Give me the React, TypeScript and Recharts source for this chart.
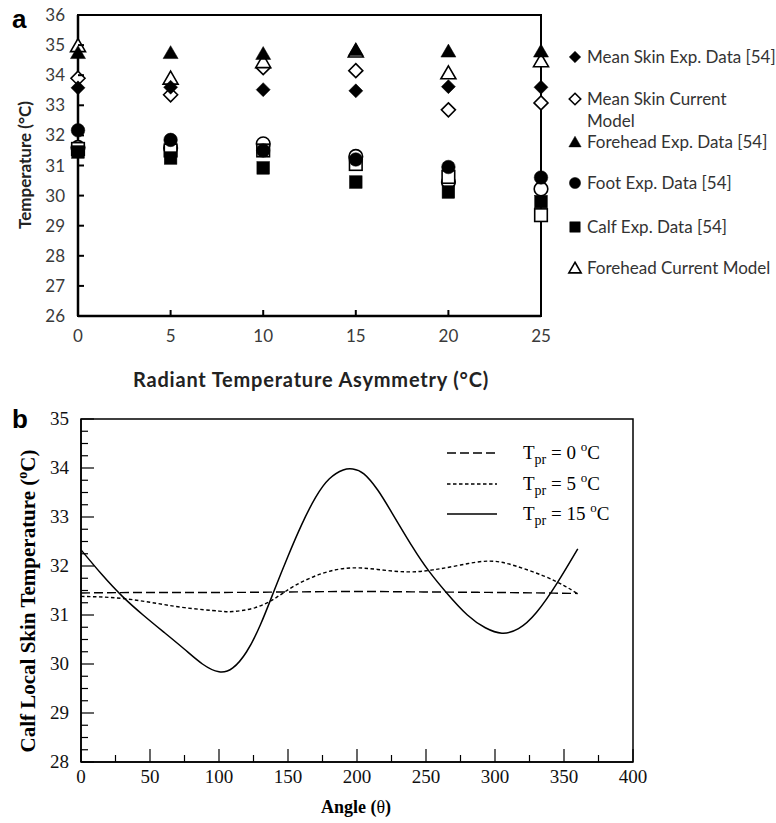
import React from 'react';
import { ScatterChart, Scatter, XAxis, YAxis, ReferenceArea, LineChart, Line } from 'recharts';

// ---------- Panel a data ----------
const rtaValues = [0, 5, 10, 15, 20, 25];
const meanSkinExp = [33.58, 33.6, 33.52, 33.48, 33.62, 33.6];
const meanSkinModel = [33.9, 33.35, 34.25, 34.15, 32.85, 33.08];
const foreheadExp = [34.75, 34.75, 34.72, 34.85, 34.8, 34.8];
const foreheadModel = [34.98, 33.9, 34.45, 34.8, 34.08, 34.48];
const footExp = [32.17, 31.85, 31.5, 31.2, 30.95, 30.6];
const footModel = [31.6, 31.58, 31.72, 31.3, 30.45, 30.22];
const calfExp = [31.45, 31.25, 30.92, 30.45, 30.12, 29.8];
const calfModel = [31.55, 31.5, 31.5, 31.05, 30.62, 29.35];
const aXTicks = [0, 5, 10, 15, 20, 25];
const aYTicks = [26, 27, 28, 29, 30, 31, 32, 33, 34, 35, 36];

// ---------- Panel b data ----------
const angle0 = [0, 50, 100, 150, 200, 250, 300, 360];
const tpr0 = [31.45, 31.46, 31.46, 31.47, 31.48, 31.47, 31.46, 31.44];
const angle5 = [0, 25, 50, 75, 100, 110, 125, 140, 155, 175, 195, 215, 236, 255, 275, 296, 315, 335, 350, 360];
const tpr5 = [31.38, 31.35, 31.26, 31.15, 31.08, 31.07, 31.14, 31.33, 31.6, 31.85, 31.96, 31.93, 31.88, 31.92, 32.02, 32.1, 32.0, 31.8, 31.6, 31.43];
const angle15 = [0, 15, 30, 45, 60, 75, 88, 100, 110, 120, 130, 140, 150, 160, 170, 180, 190, 197, 205, 215, 225, 240, 252, 265, 280, 293, 305, 317, 330, 345, 360];
const tpr15 = [32.33, 31.83, 31.38, 31.0, 30.65, 30.3, 30.0, 29.84, 29.92, 30.25, 30.8, 31.5, 32.2, 32.85, 33.4, 33.78, 33.96, 33.98, 33.88, 33.55, 33.1, 32.4, 31.9, 31.45, 31.0, 30.74, 30.63, 30.72, 31.05, 31.65, 32.35];
const bXMajor = [0, 50, 100, 150, 200, 250, 300, 350, 400];
const bYMajor = [28, 29, 30, 31, 32, 33, 34, 35];

const withMinor = (major: number[], parts: number) => {
  const out: number[] = [];
  for (let i = 0; i < major.length; i++) {
    out.push(major[i]);
    if (i < major.length - 1) {
      const step = (major[i + 1] - major[i]) / parts;
      for (let k = 1; k < parts; k++) out.push(major[i] + step * k);
    }
  }
  return out;
};
const bXTicks = withMinor(bXMajor, 2);
const bYTicks = withMinor(bYMajor, 4);

const toPts = (xs: number[], ys: number[]) => xs.map((x, i) => ({ x, y: ys[i] }));

// ---------- marker shapes ----------
type Kind = 'diamond' | 'triangle' | 'circle' | 'square';
const drawMarker = (kind: Kind, filled: boolean, cx: number, cy: number, s = 1) => {
  const fill = filled ? '#000' : '#fff';
  const stroke = '#000';
  const sw = filled ? 0.5 : 1.6;
  if (kind === 'diamond') {
    const w = 7 * s, h = 7 * s;
    return <polygon points={`${cx},${cy - h} ${cx + w},${cy} ${cx},${cy + h} ${cx - w},${cy}`} fill={fill} stroke={stroke} strokeWidth={sw} />;
  }
  if (kind === 'triangle') {
    const w = 7.5 * s, h = 7 * s;
    return <polygon points={`${cx},${cy - h} ${cx + w},${cy + h * 0.85} ${cx - w},${cy + h * 0.85}`} fill={fill} stroke={stroke} strokeWidth={sw} />;
  }
  if (kind === 'circle') {
    return <circle cx={cx} cy={cy} r={6.8 * s} fill={fill} stroke={stroke} strokeWidth={sw} />;
  }
  const h = 6.3 * s;
  return <rect x={cx - h} y={cy - h} width={2 * h} height={2 * h} fill={fill} stroke={stroke} strokeWidth={sw} />;
};
const shapeOf = (kind: Kind, filled: boolean) => (p: any) => <g>{drawMarker(kind, filled, p.cx, p.cy)}</g>;

// ---------- ticks ----------
const TickAX = (p: any) => {
  const { x, y, payload } = p;
  const v = payload.value;
  const edge = v === 0 || v === 25;
  return (
    <g>
      {!edge && <line x1={x} y1={y} x2={x} y2={y - 6} stroke="#000" strokeWidth={2} />}
      <text x={x} y={y + 26} textAnchor="middle" fontFamily="Lato" fontSize={17} fill="#3a3a3a">{v}</text>
    </g>
  );
};
const TickAY = (p: any) => {
  const { x, y, payload } = p;
  const v = payload.value;
  const edge = v === 26 || v === 36;
  return (
    <g>
      {!edge && <line x1={x} y1={y} x2={x + 6} y2={y} stroke="#000" strokeWidth={2} />}
      <text x={x - 13} y={y + 6} textAnchor="end" fontFamily="Lato" fontSize={17} fill="#3a3a3a">{v}</text>
    </g>
  );
};
const TickBX = (p: any) => {
  const { x, y, payload } = p;
  const v = Math.round(payload.value * 100) / 100;
  const major = bXMajor.includes(v);
  return (
    <g>
      <line x1={x} y1={y} x2={x} y2={y - (major ? 13 : 7)} stroke="#000" strokeWidth={1.2} />
      {major && <text x={x} y={y + 21} textAnchor="middle" fontFamily="Liberation Serif" fontSize={19} fill="#111">{v}</text>}
    </g>
  );
};
const TickBY = (p: any) => {
  const { x, y, payload } = p;
  const v = Math.round(payload.value * 100) / 100;
  const major = bYMajor.includes(v);
  return (
    <g>
      <line x1={x} y1={y} x2={x + (major ? 13 : 7)} y2={y} stroke="#000" strokeWidth={1.2} />
      {major && <text x={x - 12} y={y + 6} textAnchor="end" fontFamily="Liberation Serif" fontSize={19} fill="#111">{v}</text>}
    </g>
  );
};

const legendA: { label: string[]; kind: Kind; filled: boolean; y: number }[] = [
  { label: ['Mean Skin Exp. Data [54]'], kind: 'diamond', filled: true, y: 57 },
  { label: ['Mean Skin Current', 'Model'], kind: 'diamond', filled: false, y: 99 },
  { label: ['Forehead Exp. Data [54]'], kind: 'triangle', filled: true, y: 142 },
  { label: ['Foot Exp. Data [54]'], kind: 'circle', filled: true, y: 183 },
  { label: ['Calf Exp. Data [54]'], kind: 'square', filled: true, y: 227 },
  { label: ['Forehead Current Model'], kind: 'triangle', filled: false, y: 268 },
];

const legendB = [
  { value: '0', dash: '9 4', y: 453 },
  { value: '5', dash: '3.5 2.5', y: 484 },
  { value: '15', dash: undefined, y: 514 },
];

export default function App() {
  const aSeries = [
    { name: 'Mean Skin Current Model', ys: meanSkinModel, kind: 'diamond' as Kind, filled: false },
    { name: 'Forehead Current Model', ys: foreheadModel, kind: 'triangle' as Kind, filled: false },
    { name: 'Foot Current Model', ys: footModel, kind: 'circle' as Kind, filled: false },
    { name: 'Calf Current Model', ys: calfModel, kind: 'square' as Kind, filled: false },
    { name: 'Mean Skin Exp. Data [54]', ys: meanSkinExp, kind: 'diamond' as Kind, filled: true },
    { name: 'Forehead Exp. Data [54]', ys: foreheadExp, kind: 'triangle' as Kind, filled: true },
    { name: 'Foot Exp. Data [54]', ys: footExp, kind: 'circle' as Kind, filled: true },
    { name: 'Calf Exp. Data [54]', ys: calfExp, kind: 'square' as Kind, filled: true },
  ];
  return (
    <div style={{ position: 'absolute', left: 0, top: 0, width: 776, height: 823, background: '#fff', overflow: 'hidden' }}>
      <div style={{ position: 'absolute', left: 0, top: 0 }}>
        <ScatterChart width={776} height={400} margin={{ top: 15, right: 235, bottom: 54, left: 38 }}>
          <XAxis type="number" dataKey="x" domain={[0, 25]} ticks={aXTicks} interval={0} height={30}
            tickSize={0} tickMargin={0} tick={<TickAX />} axisLine={{ stroke: '#000', strokeWidth: 2.5 }} />
          <YAxis type="number" dataKey="y" domain={[26, 36]} ticks={aYTicks} interval={0} width={40}
            tickSize={0} tickMargin={0} tick={<TickAY />} axisLine={{ stroke: '#000', strokeWidth: 2.5 }} />
          <ReferenceArea x1={0} x2={25} y1={26} y2={36} fill="none" stroke="#000" strokeWidth={2} />
          {aSeries.map((s) => (
            <Scatter key={s.name} name={s.name} data={toPts(rtaValues, s.ys)} isAnimationActive={false}
              shape={shapeOf(s.kind, s.filled)} legendType="none" />
          ))}
        </ScatterChart>
      </div>
      <div style={{ position: 'absolute', left: 0, top: 400 }}>
        <LineChart width={776} height={423} margin={{ top: 19, right: 143, bottom: 31, left: 31 }}>
          <XAxis type="number" dataKey="x" domain={[0, 400]} ticks={bXTicks} interval={0} height={30}
            tickSize={0} tickMargin={0} tick={<TickBX />} axisLine={{ stroke: '#000', strokeWidth: 1.5 }} />
          <YAxis type="number" dataKey="y" domain={[28, 35]} ticks={bYTicks} interval={0} width={50}
            tickSize={0} tickMargin={0} tick={<TickBY />} axisLine={{ stroke: '#000', strokeWidth: 1.5 }} />
          <ReferenceArea x1={0} x2={400} y1={28} y2={35} fill="none" stroke="#000" strokeWidth={1.5} />
          <Line data={toPts(angle0, tpr0)} dataKey="y" type="monotone" stroke="#000" strokeWidth={1.4} strokeDasharray="9 4" dot={false} isAnimationActive={false} />
          <Line data={toPts(angle5, tpr5)} dataKey="y" type="natural" stroke="#000" strokeWidth={1.4} strokeDasharray="3.5 2.5" dot={false} isAnimationActive={false} />
          <Line data={toPts(angle15, tpr15)} dataKey="y" type="natural" stroke="#000" strokeWidth={1.5} dot={false} isAnimationActive={false} />
        </LineChart>
      </div>
      <svg width={776} height={823} style={{ position: 'absolute', left: 0, top: 0, pointerEvents: 'none' }}>
        {/* panel labels */}
        <text x={12} y={28} fontFamily="Liberation Sans" fontWeight="bold" fontSize={26} fill="#000">a</text>
        <text x={12} y={428} fontFamily="Liberation Sans" fontWeight="bold" fontSize={26} fill="#000">b</text>
        {/* panel a titles */}
        <text x={0} y={0} transform="translate(31,165) rotate(-90)" textAnchor="middle" fontFamily="Lato" fontWeight="bold" fontSize={17} fill="#222">Temperature (°C)</text>
        <text x={311} y={387} textAnchor="middle" fontFamily="Lato" fontWeight="bold" fontSize={20} letterSpacing={0.8} fill="#222">Radiant Temperature Asymmetry (°C)</text>
        {/* panel a legend */}
        {legendA.map((l, i) => (
          <g key={i}>
            <g>{drawMarker(l.kind, l.filled, 575, l.y, 0.82)}</g>
            {l.label.map((t, j) => (
              <text key={j} x={587} y={l.y + 6 + j * 22} fontFamily="Lato" fontSize={17} fill="#333">{t}</text>
            ))}
          </g>
        ))}
        {/* panel b titles */}
        <text x={0} y={0} transform="translate(35,601) rotate(-90)" textAnchor="middle" fontFamily="Liberation Serif" fontWeight="bold" fontSize={21} fill="#000">
          Calf Local Skin Temperature (<tspan dy={-8} fontSize={14}>o</tspan><tspan dy={8}>C)</tspan>
        </text>
        <text x={356} y={813} textAnchor="middle" fontFamily="Liberation Serif" fontWeight="bold" fontSize={18} fill="#000">
          Angle (<tspan fontWeight="normal">θ</tspan>)
        </text>
        {/* panel b legend */}
        {legendB.map((l, i) => (
          <g key={i}>
            <line x1={447} x2={497} y1={l.y} y2={l.y} stroke="#000" strokeWidth={1.4} strokeDasharray={l.dash} />
            <text x={523} y={l.y + 6} fontFamily="Liberation Serif" fontSize={19} fill="#000">
              T<tspan dy={5} fontSize={14}>pr</tspan><tspan dy={-5}> = {l.value} </tspan><tspan dy={-8} fontSize={13}>o</tspan><tspan dy={8}>C</tspan>
            </text>
          </g>
        ))}
      </svg>
    </div>
  );
}
